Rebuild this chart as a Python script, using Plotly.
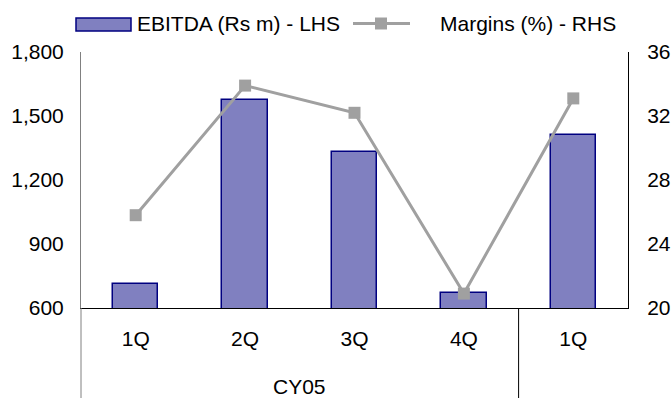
import plotly.graph_objects as go

# ---- data ----
quarters = ["1Q", "2Q", "3Q", "4Q", "1Q"]
ebitda = [712, 1575, 1332, 668, 1413]          # Rs m (LHS)
margins = [25.8, 33.9, 32.2, 20.9, 33.1]       # % (RHS)
group_labels = ["CY05", ""]
group_sizes = [4, 1]
left_ticks = [600, 900, 1200, 1500, 1800]
right_ticks = [20, 24, 28, 32, 36]
bar_name = "EBITDA (Rs m) - LHS"
line_name = "Margins (%) - RHS"

# ---- layout geometry (pixels) ----
W, H = 672, 398
ML, MR, MT, MB = 81, 44, 52, 90
PW = W - ML - MR
PH = H - MT - MB


def px(x):
    return (x - ML) / PW


def py(y):
    return 1 + (MT - y) / PH


FONT = "Liberation Sans, Arial, sans-serif"
FS = 21
BAR_FILL = "#8080C0"
BAR_EDGE = "#000080"
LINE_COL = "#A0A0A0"

xs = list(range(len(quarters)))

fig = go.Figure()
fig.add_trace(go.Bar(
    x=xs, y=ebitda, name=bar_name, width=0.415,
    marker=dict(color=BAR_FILL, line=dict(color=BAR_EDGE, width=1.5)),
    yaxis="y", showlegend=False,
))
fig.add_trace(go.Scatter(
    x=xs, y=margins, name=line_name, mode="lines+markers",
    line=dict(color=LINE_COL, width=3),
    marker=dict(symbol="square", size=12, color=LINE_COL),
    yaxis="y2", showlegend=False, cliponaxis=False,
))

shapes = []
annotations = []

# left axis extension below plot & group dividers
shapes.append(dict(type="line", xref="paper", yref="paper", x0=0, x1=0,
                   y0=py(400), y1=0, line=dict(color="#808080", width=1)))
pos = 0
for i, (lab, n) in enumerate(zip(group_labels, group_sizes)):
    start = pos - 0.5
    end = pos + n - 0.5
    if i < len(group_sizes) - 1:
        shapes.append(dict(type="line", xref="x", yref="paper", x0=end, x1=end,
                           y0=py(400), y1=0, line=dict(color="black", width=1)))
    if lab:
        annotations.append(dict(text=lab, x=(start + end) / 2, xref="x",
                                y=py(386), yref="paper", showarrow=False,
                                xanchor="center", yanchor="middle",
                                font=dict(family=FONT, size=FS, color="black")))
    pos += n

# custom legend
shapes.append(dict(type="rect", xref="paper", yref="paper",
                   x0=px(76), x1=px(131), y0=py(31), y1=py(18),
                   fillcolor=BAR_FILL, line=dict(color=BAR_EDGE, width=1.5)))
annotations.append(dict(text=bar_name, x=px(135), y=py(23.5), xref="paper", yref="paper",
                        showarrow=False, xanchor="left", yanchor="middle",
                        font=dict(family=FONT, size=FS, color="black")))
shapes.append(dict(type="line", xref="paper", yref="paper",
                   x0=px(353), x1=px(410), y0=py(23.5), y1=py(23.5),
                   line=dict(color=LINE_COL, width=3)))
shapes.append(dict(type="rect", xref="paper", yref="paper",
                   x0=px(375), x1=px(387), y0=py(29.5), y1=py(17.5),
                   fillcolor=LINE_COL, line=dict(width=0)))
annotations.append(dict(text=line_name, x=px(438), y=py(23.5), xref="paper", yref="paper",
                        showarrow=False, xanchor="left", yanchor="middle",
                        font=dict(family=FONT, size=FS, color="black")))

fig.update_layout(
    width=W, height=H,
    margin=dict(l=ML, r=MR, t=MT, b=MB, autoexpand=False),
    paper_bgcolor="white", plot_bgcolor="white",
    font=dict(family=FONT, size=FS, color="black"),
    bargap=0,
    xaxis=dict(
        range=[-0.5, len(quarters) - 0.5], tickvals=xs, ticktext=quarters,
        showgrid=False, zeroline=False, showline=True, linecolor="black", linewidth=1,
        ticks="", ticklabelstandoff=12, tickfont=dict(size=FS),
    ),
    yaxis=dict(
        range=[left_ticks[0], left_ticks[-1]], tickvals=left_ticks, tickformat=",",
        showgrid=False, zeroline=False, showline=True, linecolor="#808080", linewidth=1,
        ticks="", ticklabelstandoff=12, tickfont=dict(size=FS),
    ),
    yaxis2=dict(
        range=[right_ticks[0], right_ticks[-1]], tickvals=right_ticks,
        overlaying="y", side="right",
        showgrid=False, zeroline=False, showline=True, linecolor="black", linewidth=1,
        ticks="", ticklabelstandoff=14, tickfont=dict(size=FS),
    ),
    shapes=shapes,
    annotations=annotations,
)

fig.write_html(
    "out.html",
    config={"displayModeBar": False},
    post_script="document.body.style.margin='0';document.body.style.overflow='hidden';",
)
